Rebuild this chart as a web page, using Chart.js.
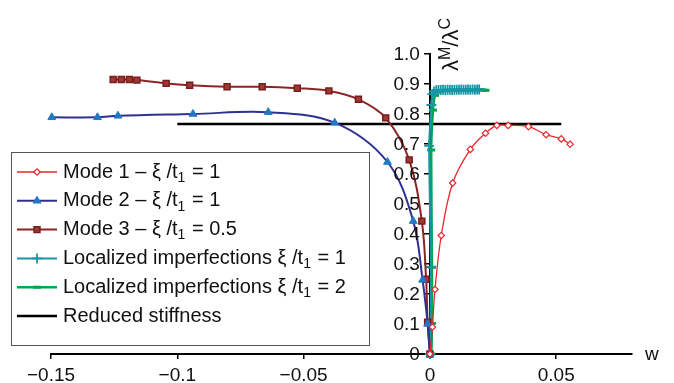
<!DOCTYPE html>
<html>
<head>
<meta charset="utf-8">
<script src="https://cdn.jsdelivr.net/npm/chart.js@4"></script>
<style>
  html, body { margin: 0; padding: 0; background: #fff; }
  #wrap { width: 674px; height: 383px; }
</style>
</head>
<body>
<div id="wrap"><canvas id="lineChart" width="674" height="383"></canvas></div>
<script>
// values
const xTicks = [-0.15, -0.1, -0.05, 0, 0.05];

const mode1X = [0, 0.001, 0.002, 0.0045, 0.009, 0.016, 0.022, 0.0265, 0.031, 0.039, 0.046, 0.052, 0.0555];
const mode1Y = [0, 0.09, 0.215, 0.395, 0.57, 0.682, 0.736, 0.762, 0.762, 0.758, 0.731, 0.717, 0.699];

const mode2X = [-0.1497, -0.1316, -0.1235, -0.0938, -0.064, -0.0377, -0.0168, -0.0066, -0.0029, -0.0009, 0];
const mode2Y = [0.789, 0.789, 0.794, 0.800, 0.806, 0.771, 0.640, 0.443, 0.247, 0.100, 0];

const mode3X = [-0.1254, -0.1222, -0.119, -0.116, -0.1044, -0.0951, -0.0803, -0.0664, -0.0525, -0.040, -0.0283, -0.0175, -0.0082, -0.0032, -0.0015, -0.0009, 0];
const mode3Y = [0.915, 0.915, 0.915, 0.913, 0.902, 0.896, 0.891, 0.891, 0.886, 0.877, 0.849, 0.787, 0.647, 0.443, 0.249, 0.106, 0];

const loc1X = [0, 0.0002, 0.0004, -0.0003, 0.0006, 0.001, 0.0016, 0.0025, 0.0034, 0.0043, 0.0052, 0.0061, 0.007, 0.0079, 0.0088, 0.0097, 0.0106, 0.0115, 0.0124, 0.0133, 0.0142, 0.0151, 0.016, 0.0169, 0.0178, 0.0187, 0.0195];
const loc1Y = [0, 0.1, 0.29, 0.694, 0.83, 0.866, 0.875, 0.879, 0.88, 0.88, 0.881, 0.88, 0.881, 0.881, 0.88, 0.881, 0.881, 0.881, 0.882, 0.881, 0.881, 0.882, 0.881, 0.882, 0.881, 0.882, 0.882];

const loc2X = [0.0006, 0.0008, 0.0008, 0.0005, 0.0012, 0.002, 0.003, 0.004, 0.005, 0.006, 0.007, 0.008, 0.009, 0.010, 0.011, 0.012, 0.013, 0.014, 0.015, 0.016, 0.017, 0.018, 0.019, 0.020, 0.021, 0.022];
const loc2Y = [0, 0.102, 0.289, 0.68, 0.813, 0.862, 0.874, 0.877, 0.878, 0.878, 0.879, 0.879, 0.879, 0.879, 0.88, 0.88, 0.88, 0.88, 0.88, 0.88, 0.88, 0.88, 0.88, 0.881, 0.88, 0.879];

const stiffX = [-0.1, 0.052];
const stiffY = [0.767, 0.767];

const labels = [
    'Mode 1 \u2013 \u03be /t\u2081 = 1',
    'Mode 2 \u2013 \u03be /t\u2081 = 1',
    'Mode 3 \u2013 \u03be /t\u2081 = 0.5',
    'Localized imperfections \u03be /t\u2081 = 1',
    'Localized imperfections \u03be /t\u2081 = 2',
    'Reduced stiffness'
];

const FONT = '"Liberation Sans", Arial, Helvetica, sans-serif';

function pts(xs, ys) {
    return xs.map((x, i) => ({ x: x, y: ys[i] }));
}

const yLabel = v => v === 0 ? '0' : v.toFixed(1);

// boxed legend on the left, line sample + marker + text with subscript
const boxLegend = {
    id: 'boxLegend',
    afterDraw(chart) {
        const ctx = chart.ctx;
        const left = 11, top = 152, w = 358, h = 193;
        ctx.save();
        ctx.fillStyle = '#fff';
        ctx.fillRect(left, top, w, h);
        ctx.strokeStyle = '#555';
        ctx.lineWidth = 1;
        ctx.strokeRect(left + 0.5, top + 0.5, w, h);
        chart.data.datasets.forEach((ds, i) => {
            const y = 172 + i * 28.8;
            ctx.strokeStyle = ds.borderColor;
            ctx.lineWidth = ds.borderWidth;
            ctx.beginPath();
            ctx.moveTo(17, y);
            ctx.lineTo(57, y);
            ctx.stroke();
            if (ds.pointRadius > 0) {
                ctx.fillStyle = ds.pointBackgroundColor;
                ctx.strokeStyle = ds.pointBorderColor;
                ctx.lineWidth = ds.pointBorderWidth;
                Chart.helpers.drawPoint(ctx, {
                    pointStyle: ds.pointStyle, rotation: 0,
                    radius: ds.pointRadius, borderWidth: ds.pointBorderWidth
                }, 37, y);
            }
            ctx.fillStyle = '#111';
            ctx.textBaseline = 'middle';
            ctx.textAlign = 'left';
            const parts = ds.label.split('\u2081');
            let x = 63;
            ctx.font = '20px ' + FONT;
            ctx.fillText(parts[0], x, y);
            x += ctx.measureText(parts[0]).width;
            if (parts.length > 1) {
                ctx.font = '14px ' + FONT;
                ctx.fillText('1', x, y + 6);
                x += ctx.measureText('1').width + 1;
                ctx.font = '20px ' + FONT;
                ctx.fillText(parts[1], x, y);
            }
        });
        ctx.restore();
    }
};

// y tick labels left of the crossing axis, and the axis names
const axisNames = {
    id: 'axisNames',
    afterDraw(chart) {
        const ctx = chart.ctx;
        const ys = chart.scales.y;
        const x0 = chart.scales.x.getPixelForValue(0);
        ctx.save();
        ctx.fillStyle = '#111';
        ctx.font = '19px ' + FONT;
        ctx.textAlign = 'right';
        ctx.textBaseline = 'middle';
        ys.ticks.forEach(t => {
            ctx.fillText(yLabel(t.value), x0 - 10, ys.getPixelForValue(t.value) + 1);
        });

        ctx.textBaseline = 'alphabetic';
        ctx.textAlign = 'left';
        ctx.fillText('w', 645, 360);

        ctx.translate(458, 71);
        ctx.rotate(-Math.PI / 2);
        const bits = [['\u03bb', 22, 0], ['M', 16, -8], ['/', 22, 0], ['\u03bb', 22, 0], ['C', 16, -8]];
        let x = 0;
        bits.forEach(b => {
            ctx.font = b[1] + 'px ' + FONT;
            ctx.fillText(b[0], x, b[2]);
            x += ctx.measureText(b[0]).width;
        });
        ctx.restore();
    }
};

const ctxLine = document.getElementById('lineChart').getContext('2d');
new Chart(ctxLine, {
    type: 'line',
    data: {
        datasets: [{
            label: labels[0],
            data: pts(mode1X, mode1Y),
            borderColor: '#e8262b',
            borderWidth: 1.3,
            pointStyle: 'rectRot',
            pointRadius: 3.2,
            pointBackgroundColor: '#fff',
            pointBorderColor: '#e8262b',
            pointBorderWidth: 1.2,
            tension: 0.35
        }, {
            label: labels[1],
            data: pts(mode2X, mode2Y),
            borderColor: '#2e3192',
            borderWidth: 2,
            pointStyle: 'triangle',
            pointRadius: 4.5,
            pointBackgroundColor: '#1f78c4',
            pointBorderColor: '#1f78c4',
            pointBorderWidth: 1,
            tension: 0.35
        }, {
            label: labels[2],
            data: pts(mode3X, mode3Y),
            borderColor: '#8b2525',
            borderWidth: 2,
            pointStyle: 'rect',
            pointRadius: 4.2,
            pointBackgroundColor: '#9b3a35',
            pointBorderColor: '#7a1c1c',
            pointBorderWidth: 1.5,
            tension: 0.35
        }, {
            label: labels[3],
            data: pts(loc1X, loc1Y),
            borderColor: '#1896a8',
            borderWidth: 2,
            pointStyle: 'cross',
            pointRadius: 5,
            pointBackgroundColor: '#1896a8',
            pointBorderColor: '#1896a8',
            pointBorderWidth: 1.8,
            tension: 0.2
        }, {
            label: labels[4],
            data: pts(loc2X, loc2Y),
            borderColor: '#00a651',
            borderWidth: 2.5,
            pointStyle: 'line',
            pointRadius: 4,
            pointBackgroundColor: '#00a651',
            pointBorderColor: '#00a651',
            pointBorderWidth: 3,
            tension: 0.15
        }, {
            label: labels[5],
            data: pts(stiffX, stiffY),
            borderColor: '#000',
            borderWidth: 2.5,
            pointRadius: 0,
            tension: 0
        }]
    },
    options: {
        responsive: false,
        animation: false,
        events: [],
        clip: false,
        layout: { padding: { left: 51, right: 42, top: 54, bottom: 0 } },
        plugins: {
            legend: { display: false },
            tooltip: { enabled: false }
        },
        scales: {
            x: {
                type: 'linear',
                position: 'bottom',
                min: -0.15,
                max: 0.08,
                afterBuildTicks: axis => {
                    axis.ticks = xTicks.map(v => ({ value: v }));
                },
                afterFit: axis => { axis.height = 29; },
                border: { color: '#000', width: 2 },
                grid: { drawOnChartArea: false, color: '#000', lineWidth: 1.5, tickLength: 5 },
                ticks: {
                    color: '#111',
                    padding: 5,
                    maxRotation: 0,
                    font: { family: FONT, size: 19 },
                    callback: v => v === 0 ? '0' : (v < 0 ? '\u2212' : '') + Math.abs(v)
                }
            },
            y: {
                type: 'linear',
                position: { x: 0 },
                min: 0,
                max: 1,
                border: { color: '#000', width: 2 },
                grid: { drawOnChartArea: false, color: '#000', lineWidth: 1.5, tickLength: 5 },
                ticks: {
                    stepSize: 0.1,
                    display: false,
                    font: { family: FONT, size: 19 }
                }
            }
        }
    },
    plugins: [boxLegend, axisNames]
});
</script>
</body>
</html>
